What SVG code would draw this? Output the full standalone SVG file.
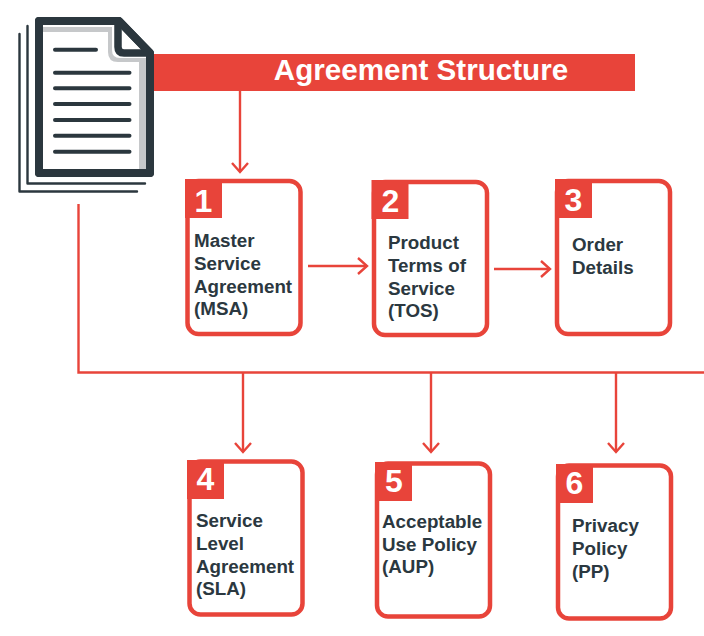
<svg xmlns="http://www.w3.org/2000/svg" width="704" height="636" viewBox="0 0 704 636">
<defs>
<marker id="arr" markerUnits="userSpaceOnUse" markerWidth="20" markerHeight="20" refX="14" refY="10" orient="auto"><path d="M5 2 L14 10 L5 18" fill="none" stroke="#e8443a" stroke-width="2.400"/></marker>
</defs>
<style>
.box{fill:#fff;stroke:#e8443a;stroke-width:4.500}
.tag{fill:#e8443a}
.num{font:bold 32px "Liberation Sans",Arial,sans-serif;fill:#fff;text-anchor:middle}
.lbl{font:bold 18.800px "Liberation Sans",Arial,sans-serif;fill:#2b3840}
.title{font:bold 29.600px "Liberation Sans",Arial,sans-serif;fill:#fff;text-anchor:middle}
.con{fill:none;stroke:#e8443a;stroke-width:2.400}
.ink{fill:none;stroke:#2b373e;stroke-linecap:round;stroke-linejoin:round}
</style>
<g id="banner"><rect x="150" y="54" width="485" height="37" fill="#e8443a"/><text class="title" x="421" y="80">Agreement Structure</text></g>
<g id="connectors">
<path class="con" marker-end="url(#arr)" d="M240 91V172"/>
<path class="con" marker-end="url(#arr)" d="M308 266H367"/>
<path class="con" marker-end="url(#arr)" d="M494 269H550"/>
<path class="con" d="M78.500 204V372.500H704"/>
<path class="con" marker-end="url(#arr)" d="M243 372V452"/>
<path class="con" marker-end="url(#arr)" d="M431 372V452"/>
<path class="con" marker-end="url(#arr)" d="M616 372V452"/>
</g>
<g id="document-icon">
<path class="ink" stroke-width="2.400" d="M19.500 34V191.500H137"/>
<path class="ink" stroke-width="2.400" d="M27.500 26V183.500H145"/>
<path d="M39 21H119L150 53V173H39Z" fill="#fff" stroke="#2b373e" stroke-width="8" stroke-linejoin="round"/>
<path d="M43 27H112V50Q112 58 120 58H146V169H139V62H118Q108 62 108 52V32H43Z" fill="#c6c8ca"/>
<path d="M118 24V47Q118 53 124 53H148" fill="none" stroke="#2b373e" stroke-width="7.500" stroke-linejoin="round"/>
<path d="M39 21H119L150 53V173H39Z" fill="none" stroke="#2b373e" stroke-width="8" stroke-linejoin="round"/>
<path class="ink" stroke-width="4" d="M55 49.700H96M55 72.700H129.500M55 88.300H129.500M55 104H129.500M55 120H129.500M55 135.700H129.500M55 151.700H129.500"/>
</g>
<g id="node1"><rect class="box" x="187.500" y="181" width="113" height="153" rx="11"/><rect class="tag" x="185" y="179" width="37" height="39"/><text class="num" x="203.500" y="212">1</text><text class="lbl"><tspan x="194" y="247">Master</tspan><tspan x="194" y="270">Service</tspan><tspan x="194" y="293">Agreement</tspan><tspan x="194" y="315">(MSA)</tspan></text></g>
<g id="node2"><rect class="box" x="374" y="182" width="113" height="153" rx="11"/><rect class="tag" x="371.500" y="180" width="37" height="39"/><text class="num" x="390.500" y="212">2</text><text class="lbl"><tspan x="388" y="249">Product</tspan><tspan x="388" y="272">Terms of</tspan><tspan x="388" y="295">Service</tspan><tspan x="388" y="317">(TOS)</tspan></text></g>
<g id="node3"><rect class="box" x="557" y="181" width="113" height="153" rx="11"/><rect class="tag" x="555" y="179" width="37" height="39"/><text class="num" x="573.500" y="211">3</text><text class="lbl"><tspan x="572" y="251">Order</tspan><tspan x="572" y="274">Details</tspan></text></g>
<g id="node4"><rect class="box" x="189.500" y="461.500" width="113" height="153" rx="11"/><rect class="tag" x="187" y="460" width="37" height="39"/><text class="num" x="205.500" y="490">4</text><text class="lbl"><tspan x="196" y="527">Service</tspan><tspan x="196" y="550">Level</tspan><tspan x="196" y="573">Agreement</tspan><tspan x="196" y="595">(SLA)</tspan></text></g>
<g id="node5"><rect class="box" x="377" y="463.500" width="113" height="153" rx="11"/><rect class="tag" x="375" y="462" width="37" height="39"/><text class="num" x="394" y="492">5</text><text class="lbl"><tspan x="382" y="528">Acceptable</tspan><tspan x="382" y="551">Use Policy</tspan><tspan x="382" y="573">(AUP)</tspan></text></g>
<g id="node6"><rect class="box" x="558" y="465.500" width="113" height="153" rx="11"/><rect class="tag" x="556" y="464" width="37" height="39"/><text class="num" x="574.500" y="494">6</text><text class="lbl"><tspan x="572" y="532">Privacy</tspan><tspan x="572" y="555">Policy</tspan><tspan x="572" y="578">(PP)</tspan></text></g>
</svg>
